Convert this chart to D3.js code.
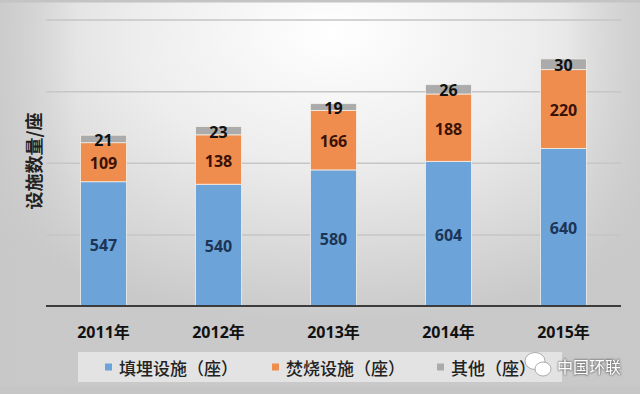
<!DOCTYPE html>
<html><head><meta charset="utf-8">
<script src="https://cdn.jsdelivr.net/npm/d3@7"></script>
<style>html,body{margin:0;padding:0;background:#fff;}svg{display:block;}</style>
</head><body>
<script>
const categories = ["2011年","2012年","2013年","2014年","2015年"];
const landfill = [547,540,580,604,640];
const incineration = [109,138,166,188,220];
const other = [21,23,19,26,30];
const seriesNames = ["填埋设施（座）","焚烧设施（座）","其他（座）"];
const seriesKeys = ["landfill","incineration","other"];
const gridTicks = [200,400,600,800,1000];
const yTitle = "设施数量/座";

const W = 640, H = 394;
const colors = {landfill:"#6ca3d8", incineration:"#ef8d4f", other:"#ababab"};
const labelColors = {landfill:"#1c3556", incineration:"#3a1206", other:"#111"};

const svg = d3.select("body").append("svg").attr("width",W).attr("height",H);
const defs = svg.append("defs");
const rg = defs.append("radialGradient").attr("id","bg")
  .attr("cx","52%").attr("cy","12%").attr("r","70%").attr("fx","52%").attr("fy","8%");
rg.append("stop").attr("offset","0%").attr("stop-color","#ffffff");
rg.append("stop").attr("offset","45%").attr("stop-color","#ededed");
rg.append("stop").attr("offset","100%").attr("stop-color","#c9c9c9");
svg.append("rect").attr("width",W).attr("height",H).attr("fill","url(#bg)");
const lg2 = defs.append("linearGradient").attr("id","edge").attr("x1","0").attr("x2","1");
lg2.append("stop").attr("offset","0%").attr("stop-color","#c8c8c8").attr("stop-opacity",0.8);
lg2.append("stop").attr("offset","12%").attr("stop-color","#c8c8c8").attr("stop-opacity",0);
lg2.append("stop").attr("offset","88%").attr("stop-color","#c8c8c8").attr("stop-opacity",0);
lg2.append("stop").attr("offset","100%").attr("stop-color","#c8c8c8").attr("stop-opacity",0.7);
svg.append("rect").attr("width",W).attr("height",H).attr("fill","url(#edge)");
svg.append("rect").attr("x",0).attr("y",0).attr("width",W).attr("height",2.5).attr("fill","#c4c4c4");
svg.append("rect").attr("x",0).attr("y",386).attr("width",W).attr("height",8).attr("fill","#c4c4c4").attr("opacity",0.7);

const data = categories.map((c,i)=>({cat:c, landfill:landfill[i], incineration:incineration[i], other:other[i]}));

const x = d3.scaleBand().domain(categories).range([46,621]).paddingInner(0.6).paddingOuter(0.3);
const y = d3.scaleLinear().domain([200,1000]).range([306,19.5]);

// gridlines
const gridAxis = d3.axisLeft(y).tickValues(gridTicks.slice(1)).tickSize(-(621-46)).tickFormat("");
const gg = svg.append("g").attr("transform","translate(46,0)").call(gridAxis);
gg.select(".domain").remove();
gg.selectAll(".tick line").attr("stroke","#c6c6c6").attr("stroke-width",1.5);

// stacked bars
const stack = d3.stack().keys(seriesKeys)(data);
const layers = svg.append("g").selectAll("g").data(stack).join("g").attr("fill",d=>colors[d.key]);
layers.selectAll("rect").data(d=>d).join("rect")
  .attr("x",d=>x(d.data.cat))
  .attr("width",x.bandwidth())
  .attr("y",d=>y(d[1]))
  .attr("height",d=>y(Math.max(d[0],200))-y(d[1]))
  .attr("stroke","#f4efe8").attr("stroke-width",0.8);

// labels
const lab = svg.append("g").attr("font-family","'Open Sans', 'Noto Sans', sans-serif").attr("font-weight",700).attr("font-size",16).attr("text-anchor","middle");
stack.forEach(layer=>{
  lab.selectAll(null).data(layer).join("text")
    .attr("x",d=>x(d.data.cat)+x.bandwidth()/2)
    .attr("y",d=>(y(Math.max(d[0],200))+y(d[1]))/2+1)
    .attr("dominant-baseline","central")
    .attr("fill",labelColors[layer.key])
    .text(d=>d.data[layer.key]);
});

// baseline + x axis
const xa = svg.append("g").attr("transform","translate(0,306)").call(d3.axisBottom(x).tickSize(0).tickPadding(0));
xa.select(".domain").attr("stroke","#3c3c3c").attr("stroke-width",2).attr("d","M46,0H621");
xa.selectAll(".tick text").attr("y",26).attr("dy","0").attr("dominant-baseline","central")
  .attr("font-family","'Open Sans','Noto Sans CJK SC',sans-serif").attr("font-weight",700).attr("font-size",16).attr("fill","#111");

// y title
svg.append("text").attr("transform","translate(33,161) rotate(-90)")
  .attr("text-anchor","middle").attr("dominant-baseline","central")
  .attr("font-family","'Noto Sans CJK SC',sans-serif").attr("font-weight",700).attr("font-size",18).attr("fill","#222")
  .text(yTitle);

// legend
svg.append("rect").attr("x",78).attr("y",352).attr("width",484).attr("height",30).attr("fill","#e6e6e6").attr("opacity",0.9);
const legX = [105, 272, 437];
const lg = svg.append("g").selectAll("g").data(seriesKeys).join("g").attr("transform",(d,i)=>`translate(${legX[i]},367)`);
lg.append("rect").attr("x",0).attr("y",-3.5).attr("width",7).attr("height",7).attr("fill",d=>colors[d]);
lg.append("text").attr("x",14).attr("dominant-baseline","central")
  .attr("font-family","'Noto Sans CJK SC',sans-serif").attr("font-weight",500).attr("font-size",17).attr("fill","#222")
  .text((d,i)=>seriesNames[i]);

// watermark
const wm = svg.append("g");
wm.append("ellipse").attr("cx",535).attr("cy",361).attr("rx",10).attr("ry",8.5).attr("fill","#fff").attr("stroke","#999").attr("stroke-width",0.8);
wm.append("ellipse").attr("cx",543).attr("cy",369).attr("rx",8).attr("ry",7).attr("fill","#fff").attr("stroke","#999").attr("stroke-width",0.8);
wm.append("text").attr("x",557).attr("y",366).attr("dominant-baseline","central")
  .attr("font-family","'Noto Sans CJK SC',sans-serif").attr("font-size",16).attr("fill","#fff")
  .attr("stroke","#8a8a8a").attr("stroke-width",0.6).attr("paint-order","stroke")
  .style("filter","drop-shadow(0px 0px 1px rgba(0,0,0,0.5))")
  .text("中国环联");
</script>
</body></html>
